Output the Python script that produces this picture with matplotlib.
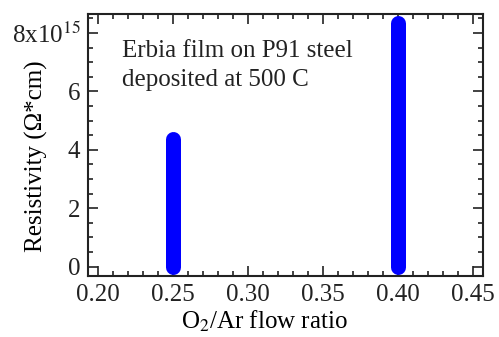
import numpy as np
import matplotlib
matplotlib.use("Agg")
import matplotlib.pyplot as plt
from matplotlib.ticker import MultipleLocator, FixedLocator

plt.rcParams['font.family'] = ['Liberation Serif', 'DejaVu Serif']
plt.rcParams['mathtext.fontset'] = 'stix'

# data: O2/Ar flow ratio and resistivity range (Ohm*cm)
ratio = [0.25, 0.40]
res_low = [0.0, 0.0]
res_high = [4.37e15, 8.33e15]

y_ticks = [0, 2e15, 4e15, 6e15, 8e15]
y_labels = ['0', '2', '4', '6', '8x10$^{15}$']
x_ticks = [0.20, 0.25, 0.30, 0.35, 0.40, 0.45]

fig = plt.figure(figsize=(4.99, 3.37), dpi=100)
ax = fig.add_axes([88/499, 1 - 276/337, (483-88)/499, (276-14)/337])

for x, lo, hi in zip(ratio, res_low, res_high):
    ax.plot([x, x], [lo, hi], color='#0000ff', lw=10.8, solid_capstyle='round')

ax.set_xlim(0.1935, 0.4565)
ax.set_ylim(-0.32e15, 8.65e15)

ax.xaxis.set_major_locator(FixedLocator(x_ticks))
ax.set_xticklabels(['%.2f' % v for v in x_ticks])
ax.xaxis.set_minor_locator(MultipleLocator(0.01))
ax.yaxis.set_major_locator(FixedLocator(y_ticks))
ax.set_yticklabels(y_labels)
ax.yaxis.set_minor_locator(MultipleLocator(0.5e15))

ax.tick_params(which='both', direction='in', top=True, right=True, width=1.2,
               labelsize=18, colors='#222222')
ax.tick_params(which='major', length=7)
ax.tick_params(axis='x', which='major', pad=6)
ax.tick_params(axis='y', which='major', pad=5.5)
ax.tick_params(which='minor', length=3.6)
for s in ax.spines.values():
    s.set_linewidth(1.5)
    s.set_color('#222222')

ax.set_xlabel('O$_2$/Ar flow ratio', fontsize=18, va='baseline')
ax.set_ylabel('Resistivity (Ω*cm)', fontsize=18)
ax.xaxis.set_label_coords(0.447, -0.202)
ax.yaxis.set_label_coords(-0.10, 0.456)

ax.text(0.086, 0.836, 'Erbia film on P91 steel', transform=ax.transAxes,
        fontsize=18, va='baseline', ha='left', color='#222222')
ax.text(0.086, 0.725, 'deposited at 500 C', transform=ax.transAxes,
        fontsize=18, va='baseline', ha='left', color='#222222')

fig.savefig('out.png', dpi=100)
